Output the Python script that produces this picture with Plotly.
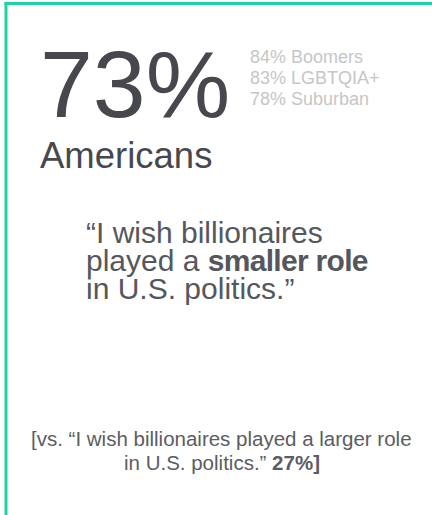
import plotly.graph_objects as go

# headline figure
headline_pct = 73
headline_label = "Americans"

# sub groups shown in grey next to the headline
group_names = ["Boomers", "LGBTQIA+", "Suburban"]
group_pcts = [84, 83, 78]

# quote and counter statement
quote_lines = ["\u201cI wish billionaires",
               "played a <span style='letter-spacing:-0.7px'><b>smaller role</b></span>",
               "in U.S. politics.\u201d"]
counter_pct = 27
counter_lines = ["[vs. \u201cI wish billionaires played a larger role",
                 "in U.S. politics.\u201d <b>{}%]</b>"]

W, H = 432, 515
FONT = "Liberation Sans, Arial, sans-serif"
DARK = "#46484e"
GREEN = "#1dd3a6"


def px(x):
    return x / W


def py(y):
    return 1 - y / H


fig = go.Figure()

anns = []
anns.append(dict(x=px(39), y=py(84), text=f"{headline_pct}%", xanchor="left", yanchor="middle",
                 font=dict(family=FONT, size=95, color=DARK)))
anns.append(dict(x=px(39), y=py(156), text=headline_label, xanchor="left", yanchor="middle",
                 font=dict(family=FONT, size=36.5, color=DARK)))

for i, (n, p) in enumerate(zip(group_names, group_pcts)):
    anns.append(dict(x=px(249), y=py(57 + i * 21), text=f"{p}% {n}", xanchor="left", yanchor="middle",
                     font=dict(family=FONT, size=18, color="#c6c6c6")))

for i, line in enumerate(quote_lines):
    anns.append(dict(x=px(85), y=py(232.5 + i * 28), text=line, xanchor="left", yanchor="middle",
                     font=dict(family=FONT, size=30, color="#55575d")))

counter_lines[1] = counter_lines[1].format(counter_pct)
for i, line in enumerate(counter_lines):
    anns.append(dict(x=px(222), y=py(438 + i * 24.5), text=line, xanchor="center", yanchor="middle",
                     font=dict(family=FONT, size=20.5, color="#5b5d62")))

for a in anns:
    a.update(xref="paper", yref="paper", showarrow=False, borderpad=0)

fig.update_layout(
    width=W, height=H,
    margin=dict(l=0, r=0, t=0, b=0),
    paper_bgcolor="white", plot_bgcolor="white",
    xaxis=dict(visible=False, range=[0, 1]),
    yaxis=dict(visible=False, range=[0, 1]),
    annotations=anns,
    shapes=[
        dict(type="line", xref="paper", yref="paper", x0=px(6), x1=px(6), y0=0, y1=py(2),
             line=dict(color=GREEN, width=3)),
        dict(type="line", xref="paper", yref="paper", x0=px(4.5), x1=1, y0=py(3.5), y1=py(3.5),
             line=dict(color=GREEN, width=3)),
    ],
    showlegend=False,
)

# page body has a default 8px margin, drop it so the figure sits at 0,0
fig.write_html("out.html", config={"displayModeBar": False},
               post_script="document.body.style.margin='0';")
